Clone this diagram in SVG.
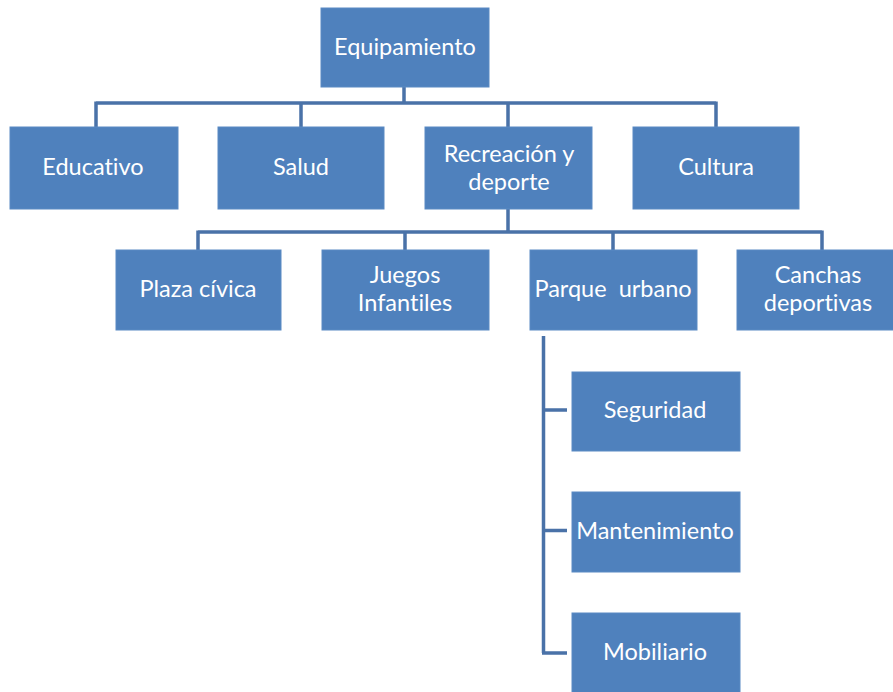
<svg xmlns="http://www.w3.org/2000/svg" width="893" height="692" viewBox="0 0 893 692">
<style>
.box{fill:#4f81bd;stroke:#5a8ac3;stroke-width:1}
.t{font-family:Lato,"Liberation Sans",sans-serif;font-size:23.5px;fill:#ffffff;text-anchor:middle;dominant-baseline:central;font-variant-ligatures:none}
.c{fill:none;stroke:#4a72a8;stroke-width:3.5}
</style>
<rect width="893" height="692" fill="#ffffff"/>
<g id="connectors">
<path class="c" d="M404 87V103M96 103H716M96 101.5V127M301 101.5V127M508 101.5V127M716 101.5V127"/>
<path class="c" d="M508 209V232M198 232H822M198 230.5V250M405 230.5V250M613 230.5V250M822 230.5V250"/>
<path class="c" d="M543.5 336V653M542 410H567M542 530.5H567M542 653H567"/>
</g>
<g id="n-equipamiento"><rect class="box" x="321" y="8" width="168" height="79"/><text class="t" x="405" y="46">Equipamiento</text></g>
<g id="n-educativo"><rect class="box" x="10" y="127" width="168" height="82"/><text class="t" x="93" y="166">Educativo</text></g>
<g id="n-salud"><rect class="box" x="218" y="127" width="166" height="82"/><text class="t" x="301" y="166">Salud</text></g>
<g id="n-recreacion"><rect class="box" x="425" y="127" width="167" height="82"/><text class="t" x="509" y="153">Recreación y</text><text class="t" x="509" y="181">deporte</text></g>
<g id="n-cultura"><rect class="box" x="633" y="127" width="166" height="82"/><text class="t" x="716" y="166">Cultura</text></g>
<g id="n-plaza"><rect class="box" x="116" y="250" width="165" height="80"/><text class="t" x="198" y="288">Plaza cívica</text></g>
<g id="n-juegos"><rect class="box" x="322" y="250" width="167" height="80"/><text class="t" x="405" y="274">Juegos</text><text class="t" x="405" y="302">Infantiles</text></g>
<g id="n-parque"><rect class="box" x="530" y="250" width="167" height="80"/><text class="t" x="613" y="288" xml:space="preserve">Parque  urbano</text></g>
<g id="n-canchas"><rect class="box" x="737" y="250" width="160" height="80"/><text class="t" x="818" y="274">Canchas</text><text class="t" x="818" y="302">deportivas</text></g>
<g id="n-seguridad"><rect class="box" x="572" y="372" width="168" height="79"/><text class="t" x="655" y="409">Seguridad</text></g>
<g id="n-mantenimiento"><rect class="box" x="572" y="492" width="168" height="80"/><text class="t" x="655" y="530">Mantenimiento</text></g>
<g id="n-mobiliario"><rect class="box" x="572" y="613" width="168" height="82"/><text class="t" x="655" y="651">Mobiliario</text></g>
</svg>
